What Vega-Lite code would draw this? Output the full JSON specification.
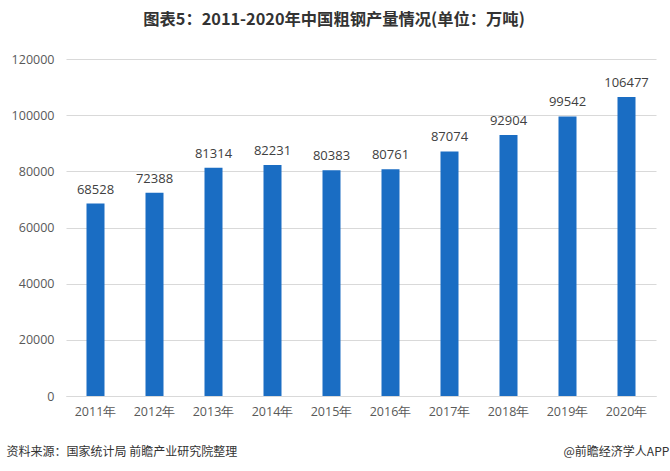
{
  "$schema": "https://vega.github.io/schema/vega-lite/v6.json",
  "width": 590,
  "height": 337,
  "autosize": {"type": "none"},
  "padding": {"left": 66, "top": 59, "right": 14, "bottom": 75},
  "background": "white",
  "title": {
    "text": "图表5：2011-2020年中国粗钢产量情况(单位：万吨)",
    "font": "Noto Sans CJK SC",
    "fontSize": 16.3,
    "fontWeight": "bold",
    "color": "#333333",
    "anchor": "middle",
    "dx": -27,
    "offset": 25
  },
  "config": {
    "view": {"stroke": null},
    "font": "Noto Sans CJK SC"
  },
  "data": {
    "values": [
      {"year": "2011年", "output": 68528},
      {"year": "2012年", "output": 72388},
      {"year": "2013年", "output": 81314},
      {"year": "2014年", "output": 82231},
      {"year": "2015年", "output": 80383},
      {"year": "2016年", "output": 80761},
      {"year": "2017年", "output": 87074},
      {"year": "2018年", "output": 92904},
      {"year": "2019年", "output": 99542},
      {"year": "2020年", "output": 106477}
    ]
  },
  "encoding": {
    "x": {
      "field": "year",
      "type": "ordinal",
      "sort": null,
      "scale": {"paddingInner": 0, "paddingOuter": 0},
      "axis": {
        "title": "资料来源：国家统计局 前瞻产业研究院整理",
        "titleFont": "Noto Sans CJK SC",
        "titleFontSize": 12,
        "titleFontWeight": "normal",
        "titleColor": "#333333",
        "titleAnchor": "start",
        "titleAlign": "left",
        "titleBaseline": "middle",
        "titleX": -60,
        "titleY": 55,
        "labelAngle": 0,
        "labelFont": "Open Sans",
        "labelFontSize": 12.5,
        "labelColor": "#595959",
        "labelPadding": 9,
        "ticks": false,
        "domainColor": "#d9d9d9",
        "grid": false
      }
    }
  },
  "layer": [
    {
      "mark": {"type": "bar", "size": 18, "color": "#1a6dc3"},
      "encoding": {
        "y": {
          "field": "output",
          "type": "quantitative",
          "scale": {"domain": [0, 120000]},
          "axis": {
            "title": null,
            "values": [0, 20000, 40000, 60000, 80000, 100000, 120000],
            "format": "d",
            "labelFont": "Open Sans",
            "labelFontSize": 12.5,
            "labelColor": "#595959",
            "labelPadding": 12,
            "ticks": false,
            "domain": false,
            "gridColor": "#d9d9d9",
            "gridWidth": 1
          }
        }
      }
    },
    {
      "mark": {
        "type": "text",
        "baseline": "bottom",
        "dy": -7,
        "font": "Open Sans",
        "fontSize": 13,
        "color": "#404040"
      },
      "encoding": {
        "y": {
          "field": "output",
          "type": "quantitative",
          "scale": {"domain": [0, 120000]},
          "axis": {
            "orient": "right",
            "title": "@前瞻经济学人APP",
            "titleFont": "Noto Sans CJK SC",
            "titleFontSize": 12,
            "titleFontWeight": "normal",
            "titleColor": "#333333",
            "titleAngle": 0,
            "titleAnchor": "start",
            "titleAlign": "left",
            "titleBaseline": "middle",
            "titleX": -93,
            "titleY": 392,
            "labels": false,
            "ticks": false,
            "domain": false,
            "grid": false
          }
        },
        "text": {"field": "output", "type": "quantitative", "format": "d"}
      }
    }
  ],
  "resolve": {"scale": {"y": "independent"}, "axis": {"y": "independent"}}
}
